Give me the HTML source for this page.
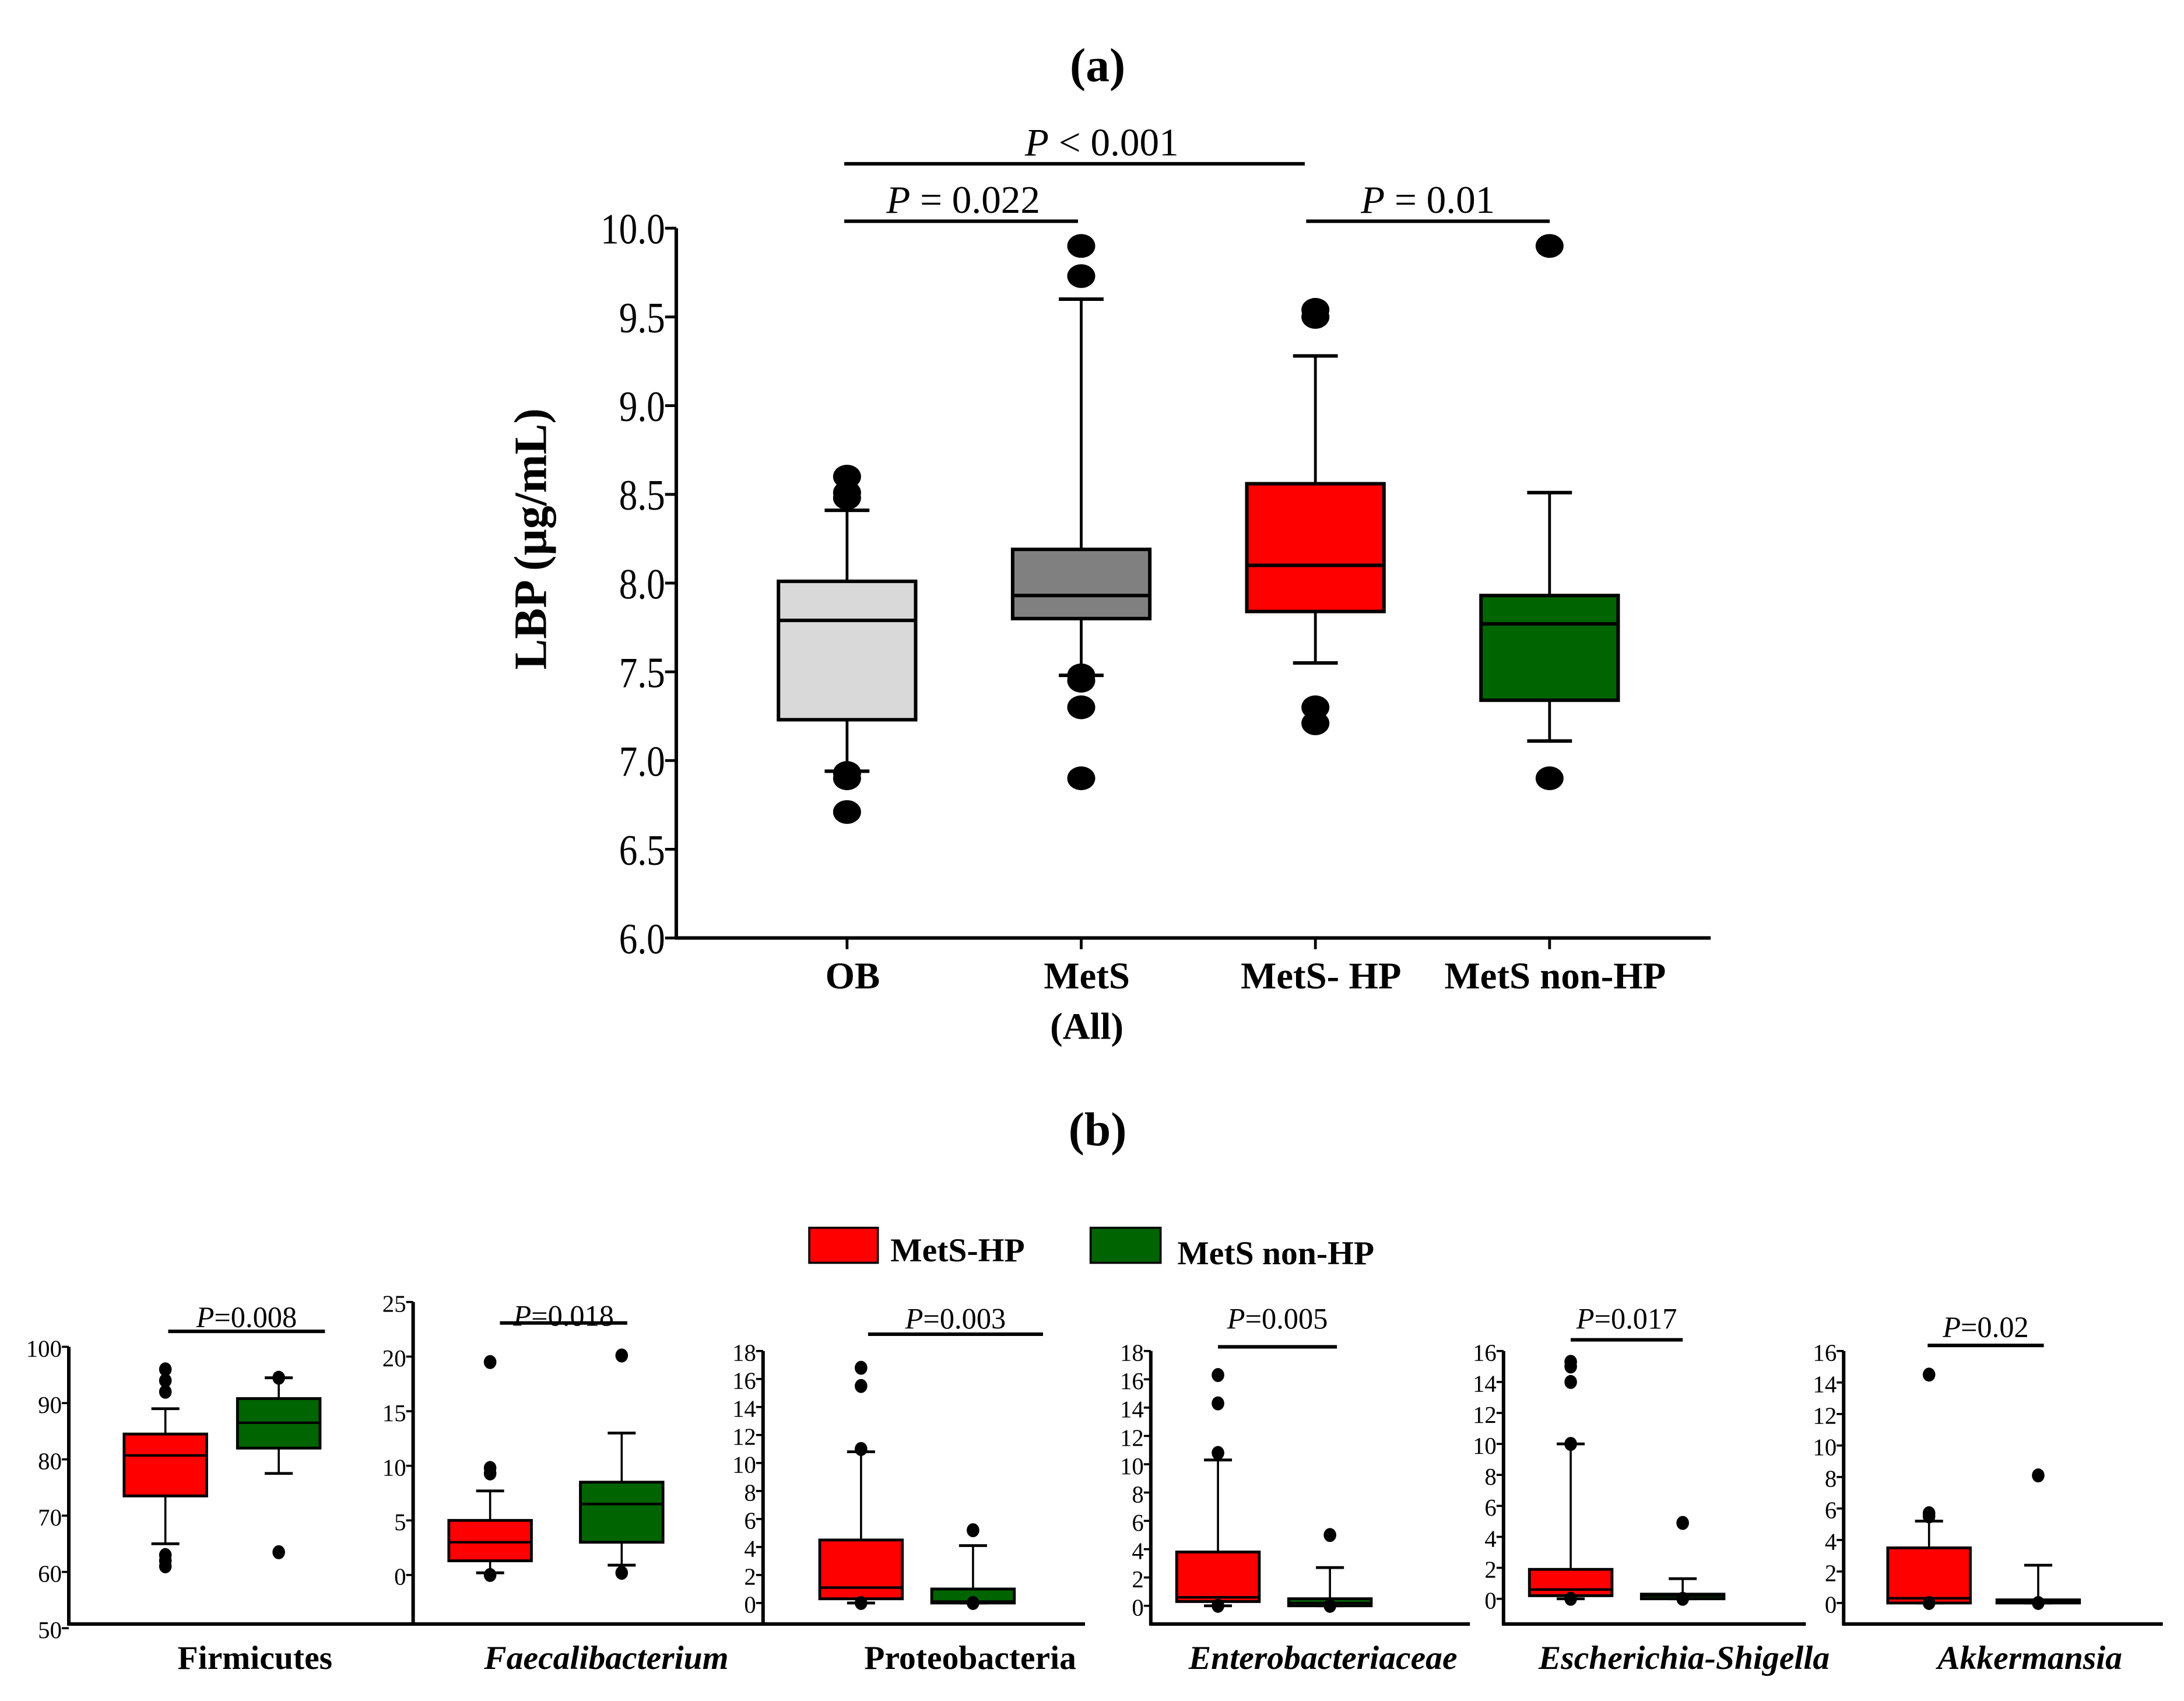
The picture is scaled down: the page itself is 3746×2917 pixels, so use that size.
<!DOCTYPE html>
<html><head><meta charset="utf-8"><style>
html,body{margin:0;padding:0;background:#fff}
svg{display:block}
text{font-family:"Liberation Serif",serif;fill:#000}
</style></head><body>
<svg id="fig" width="3746" height="2917" viewBox="0 0 1560 1215" xmlns="http://www.w3.org/2000/svg">
<text x="784" y="58" font-size="34" font-weight="bold" text-anchor="middle">(a)</text>
<text x="784" y="818" font-size="34" font-weight="bold" text-anchor="middle">(b)</text>
<g id="top"></g>
<g id="legend">
<rect x="578" y="877" width="49" height="25" fill="#ff0000" stroke="#000" stroke-width="1.5"/>
<text x="636" y="901" font-size="24" font-weight="bold">MetS-HP</text>
<rect x="779" y="877" width="50" height="25" fill="#006400" stroke="#000" stroke-width="1.5"/>
<text x="841" y="903" font-size="24" font-weight="bold">MetS non-HP</text>
</g>
<g id="bottom"></g>
</svg>
<script>
// ---- top chart data ----
const topCategories = ["OB", "MetS", "MetS- HP", "MetS non-HP"];
const topCategorySub = ["", "(All)", "", ""];
const topQ1 = [7.23, 7.80, 7.84, 7.34];
const topMedian = [7.79, 7.93, 8.10, 7.77];
const topQ3 = [8.01, 8.19, 8.56, 7.93];
const topWhiskLo = [6.94, 7.48, 7.55, 7.11];
const topWhiskHi = [8.41, 9.60, 9.28, 8.51];
const topOutliers = [[6.71, 6.90, 6.93, 8.48, 8.51, 8.60], [6.90, 7.30, 7.45, 7.48, 9.73, 9.90], [7.21, 7.30, 9.50, 9.54], [6.90, 9.90]];
const topFills = ["#d9d9d9", "#808080", "#ff0000", "#006400"];
const topTicks = [6.0, 6.5, 7.0, 7.5, 8.0, 8.5, 9.0, 9.5, 10.0];

// ---- bottom panels data ----
const panelNames = ["Firmicutes", "Faecalibacterium", "Proteobacteria", "Enterobacteriaceae", "Escherichia-Shigella", "Akkermansia"];
const panelItalic = [false, true, false, true, true, true];
const panelP = ["0.008", "0.018", "0.003", "0.005", "0.017", "0.02"];
const panelTicks = [[50,60,70,80,90,100],[0,5,10,15,20,25],[0,2,4,6,8,10,12,14,16,18],[0,2,4,6,8,10,12,14,16,18],[0,2,4,6,8,10,12,14,16],[0,2,4,6,8,10,12,14,16]];
const hpQ1 = [73.5, 1.3, 0.3, 0.3, 0.2, 0.0];
const hpMed = [80.7, 3.0, 1.1, 0.6, 0.6, 0.3];
const hpQ3 = [84.5, 5.0, 4.5, 3.8, 1.9, 3.5];
const hpLo = [65, 0.2, 0, 0, 0, 0];
const hpHi = [89, 7.7, 10.8, 10.3, 10.0, 5.2];
const hpOut = [[61,62,63,92,94,96],[0,9.3,9.8,19.5],[0,11,15.5,16.8],[0,10.8,14.3,16.3],[0,10,14,15,15.3],[0,5.5,5.7,14.5]];
const nhQ1 = [82, 3.0, 0, 0, 0, 0];
const nhMed = [86.5, 6.5, 0.1, 0.2, 0.2, 0.1];
const nhQ3 = [90.8, 8.5, 1.0, 0.5, 0.3, 0.2];
const nhLo = [77.5, 0.9, 0, 0, 0, 0];
const nhHi = [94.5, 13, 4.1, 2.7, 1.3, 2.4];
const nhOut = [[63.5,94.5],[0.2,20.1],[0,5.2],[0,5],[0,4.9],[0,8.1]];

const NS = "http://www.w3.org/2000/svg";
function mk(parent, tag, attrs, txt) {
  const e = document.createElementNS(NS, tag);
  for (const k in attrs) e.setAttribute(k, attrs[k]);
  if (txt !== undefined) e.textContent = txt;
  parent.appendChild(e);
  return e;
}

// ---- draw top ----
(function(){
  const g = document.getElementById("top");
  const x0 = 483, x1 = 1222, yTop = 163, yBot = 670, vMin = 6, vMax = 10;
  const y = v => yBot - (v - vMin) / (vMax - vMin) * (yBot - yTop);
  const xs = i => 605 + i * 167.3;
  const bw = 98;
  let e = mk(g, "line", {x1:x0, y1:yTop, x2:x0, y2:yBot+1, stroke:"#000", "stroke-width":2.5});
  
  
  e = mk(g, "line", {x1:x0-1, y1:yBot, x2:x1, y2:yBot, stroke:"#000", "stroke-width":2.5});
  
  
  topTicks.forEach(t => {
    const tk = mk(g, "line", {x1:x0-8, y1:y(t), x2:x0, y2:y(t), stroke:"#000", "stroke-width":2});
    
    
    const tl = mk(g, "text", {x:0, y:0, "font-size":31, "text-anchor":"end", transform:"translate(" + (x0-8) + "," + (y(t)+11) + ") scale(0.85,1)"}, t.toFixed(1));
    
    
  });
  const yl = mk(g, "text", {x:0, y:0, "font-size":33, "font-weight":"bold", "text-anchor":"middle", transform:"translate(390,385) rotate(-90)"}, "LBP (µg/mL)");
  
  
  topCategories.forEach((c, i) => {
    const cx = xs(i);
    const tk = mk(g, "line", {x1:cx, y1:yBot, x2:cx, y2:yBot+8, stroke:"#000", "stroke-width":2});
    
    
    const lb = mk(g, "text", {x:cx+4, y:706, "font-size":27, "font-weight":"bold", "text-anchor":"middle"}, c);
    
    
    if (topCategorySub[i]) {
      const s = mk(g, "text", {x:cx+4, y:742, "font-size":27, "font-weight":"bold", "text-anchor":"middle"}, topCategorySub[i]);
      
      
    }
    const w = mk(g, "line", {x1:cx, y1:y(topWhiskLo[i]), x2:cx, y2:y(topWhiskHi[i]), stroke:"#000", "stroke-width":2});
    
    
    [topWhiskLo[i], topWhiskHi[i]].forEach(v => {
      const cap = mk(g, "line", {x1:cx-16, y1:y(v), x2:cx+16, y2:y(v), stroke:"#000", "stroke-width":2.5});
      
      
    });
    const b = mk(g, "rect", {x:cx-bw/2, y:y(topQ3[i]), width:bw, height:y(topQ1[i])-y(topQ3[i]), fill:topFills[i], stroke:"#000", "stroke-width":2.5});
    
    
    const m = mk(g, "line", {x1:cx-bw/2, y1:y(topMedian[i]), x2:cx+bw/2, y2:y(topMedian[i]), stroke:"#000", "stroke-width":2.5});
    
    
    topOutliers[i].forEach(v => {
      const o = mk(g, "ellipse", {cx:cx, cy:y(v), rx:10, ry:8.5, fill:"#000"});
      
      
    });
  });
  const brackets = [[603, 932, 117, "< 0.001", 787], [603, 770, 158, "= 0.022", 688], [933, 1107, 158, "= 0.01", 1020]];
  brackets.forEach(br => {
    const l = mk(g, "line", {x1:br[0], y1:br[2], x2:br[1], y2:br[2], stroke:"#000", "stroke-width":2.5});
    
    
    const t = mk(g, "text", {x:br[4], y:br[2]-6, "font-size":28, "text-anchor":"middle"});
    
    
    mk(t, "tspan", {"font-style":"italic"}, "P");
    mk(t, "tspan", {}, " " + br[3]);
  });
})();

// ---- draw bottom ----
(function(){
  const root = document.getElementById("bottom");
  const axX = [49, 295, 545, 822, 1074, 1317];
  const axEnd = [320, 560, 775, 1050, 1290, 1545];
  const topY = [962, 930, 965, 965, 965, 965];
  const botY = [1163, 1125, 1145, 1147, 1142, 1145];
  const hpX = [118, 350, 615, 870, 1122, 1378];
  const nhX = [199, 444, 695, 950, 1202, 1456];
  const pLine = [[120,232,951],[357,448,945],[620,745,953],[870,955,962],[1122,1202,957],[1377,1460,961]];
  const pTextY = [948, 947, 949, 949, 949, 955];
  const labX = [182, 433, 693, 945, 1203, 1450];
  const baseY = 1160, bw = 59;
  panelNames.forEach((name, p) => {
    const g = mk(root, "g", {});
    
    
    const ticks = panelTicks[p];
    const vMin = ticks[0], vMax = ticks[ticks.length-1];
    const y = v => botY[p] - (v - vMin) / (vMax - vMin) * (botY[p] - topY[p]);
    let e = mk(g, "line", {x1:axX[p], y1:topY[p], x2:axX[p], y2:baseY+1, stroke:"#000", "stroke-width":2.5});
    
    
    e = mk(g, "line", {x1:axX[p]-1, y1:baseY, x2:axEnd[p], y2:baseY, stroke:"#000", "stroke-width":2.5});
    
    
    ticks.forEach(t => {
      const tk = mk(g, "line", {x1:axX[p]-5, y1:y(t), x2:axX[p], y2:y(t), stroke:"#000", "stroke-width":1.5});
      
      
      const tl = mk(g, "text", {x:axX[p]-5, y:y(t)+7, "font-size":17, "text-anchor":"end"}, String(t));
      
      
    });
    const groups = [[hpX[p], hpQ1, hpMed, hpQ3, hpLo, hpHi, hpOut, "#ff0000"], [nhX[p], nhQ1, nhMed, nhQ3, nhLo, nhHi, nhOut, "#006400"]];
    groups.forEach(gr => {
      const cx = gr[0];
      const w = mk(g, "line", {x1:cx, y1:y(gr[4][p]), x2:cx, y2:y(gr[5][p]), stroke:"#000", "stroke-width":1.5});
      
      
      [gr[4][p], gr[5][p]].forEach(v => {
        const cap = mk(g, "line", {x1:cx-10, y1:y(v), x2:cx+10, y2:y(v), stroke:"#000", "stroke-width":2});
        
        
      });
      const b = mk(g, "rect", {x:cx-bw/2, y:y(gr[3][p]), width:bw, height:Math.max(2, y(gr[1][p])-y(gr[3][p])), fill:gr[7], stroke:"#000", "stroke-width":2});
      
      
      const m = mk(g, "line", {x1:cx-bw/2, y1:y(gr[2][p]), x2:cx+bw/2, y2:y(gr[2][p]), stroke:"#000", "stroke-width":1.8});
      
      
      gr[6][p].forEach(v => {
        const o = mk(g, "ellipse", {cx:cx, cy:y(v), rx:4.5, ry:5, fill:"#000"});
        
        
      });
    });
    const pl = mk(g, "line", {x1:pLine[p][0], y1:pLine[p][2], x2:pLine[p][1], y2:pLine[p][2], stroke:"#000", "stroke-width":2.5});
    
    
    const pt = mk(g, "text", {x:(pLine[p][0]+pLine[p][1])/2, y:pTextY[p], "font-size":21, "text-anchor":"middle"});
    
    
    mk(pt, "tspan", {"font-style":"italic"}, "P");
    mk(pt, "tspan", {}, "=" + panelP[p]);
    const lb = mk(g, "text", {x:labX[p], y:1192, "font-size":24, "font-weight":"bold", "font-style":panelItalic[p] ? "italic" : "normal", "text-anchor":"middle"}, name);
    
    
  });
})();
</script>
</body></html>
